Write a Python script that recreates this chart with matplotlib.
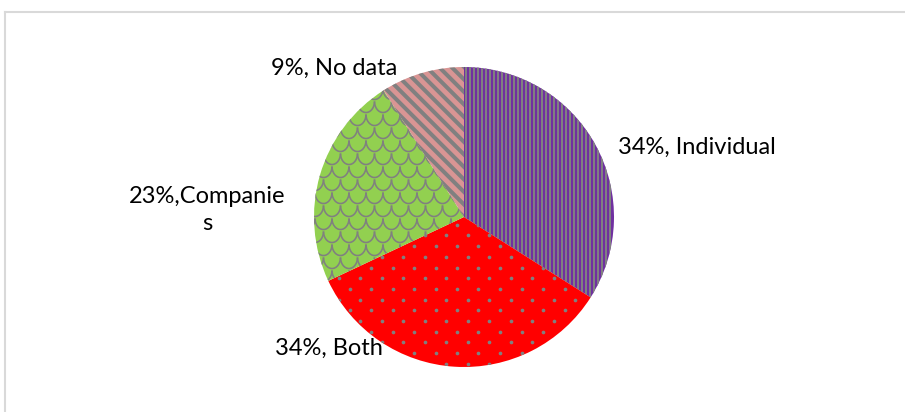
import numpy as np
import matplotlib.pyplot as plt
from matplotlib.collections import LineCollection
from matplotlib.lines import Line2D

# shares of respondents by type
categories = ["Individual", "Both", "Companies", "No data"]
shares = [34, 34, 23, 9]
labels = ["34%, Individual", "34%, Both", "23%,Companie\ns", "9%, No data"]

W, H = 905, 412
fig = plt.figure(figsize=(W / 100, H / 100), dpi=100)
plt.rcParams['font.family'] = ['Lato', 'DejaVu Sans']

# pie geometry in pixels
cx, cy, rad = 464, 217, 150
half = 170
ax = fig.add_axes([(cx - half) / W, (H - cy - half) / H, 2 * half / W, 2 * half / H])
lim = half / rad
px = 1.0 / rad  # one pixel in data units
pt = 0.72       # one pixel in points

colors = ["#7030A0", "#FF0000", "#92D050", "#D99594"]
grey = "#808080"

wedges, _ = ax.pie(shares, colors=colors, startangle=90, counterclock=False,
                   radius=1.0, wedgeprops=dict(linewidth=0))
ax.set_xlim(-lim, lim)
ax.set_ylim(-lim, lim)
ax.set_aspect('equal')
ax.axis('off')


def add_lines(segs, wedge, lw):
    lc = LineCollection(segs, colors=grey, linewidths=lw, capstyle='butt')
    lc.set_clip_path(wedge)
    ax.add_collection(lc)


# vertical stripes
xs = np.arange(-1.0, 1.0, 4 * px)
add_lines([[(x, -1.05), (x, 1.05)] for x in xs], wedges[0], 2 * pt)

# staggered dots
dot_x, dot_y = [], []
for j, y in enumerate(np.arange(-1.05, 1.05, 10.7 * px)):
    off = (j % 2) * 10.75 * px
    for x in np.arange(-1.05 + off, 1.05, 21.5 * px):
        dot_x.append(x)
        dot_y.append(y)
dots = ax.scatter(dot_x, dot_y, s=7, color=grey, linewidths=0, zorder=3)
dots.set_clip_path(wedges[1])

# shingle scales
sw, sh = 17 * px, 13 * px
t = np.linspace(np.pi, 2 * np.pi, 16)
arcs = []
for j, y in enumerate(np.arange(-1.05, 1.1, sh)):
    off = (j % 2) * sw / 2
    for x in np.arange(-1.05 + off, 1.05, sw):
        arcs.append(np.column_stack([x + sw / 2 * np.cos(t), y + sh * 0.85 * np.sin(t)]))
add_lines(arcs, wedges[2], 1.6 * pt)

# diagonal stripes
cs = np.arange(-2.5, 2.5, 12.5 * px)
add_lines([[(-1.1, c + 1.1), (1.1, c - 1.1)] for c in cs], wedges[3], 4 * pt)

# data labels (baseline of the last line)
label_pos = [(697, 154), (329, 355), (207, 230), (334, 75)]
for text, (x, y) in zip(labels, label_pos):
    fig.text(x / W, 1 - y / H, text, ha='center', va='baseline', fontsize=17,
             color='#000000', multialignment='center', linespacing=1.35)

# chart frame
frame = dict(color='#D9D9D9', linewidth=1.5, transform=fig.transFigure)
fig.add_artist(Line2D([5 / W, 1], [1 - 12 / H, 1 - 12 / H], **frame))
fig.add_artist(Line2D([5 / W, 5 / W], [0, 1 - 12 / H], **frame))

fig.savefig("out.png", dpi=100)
